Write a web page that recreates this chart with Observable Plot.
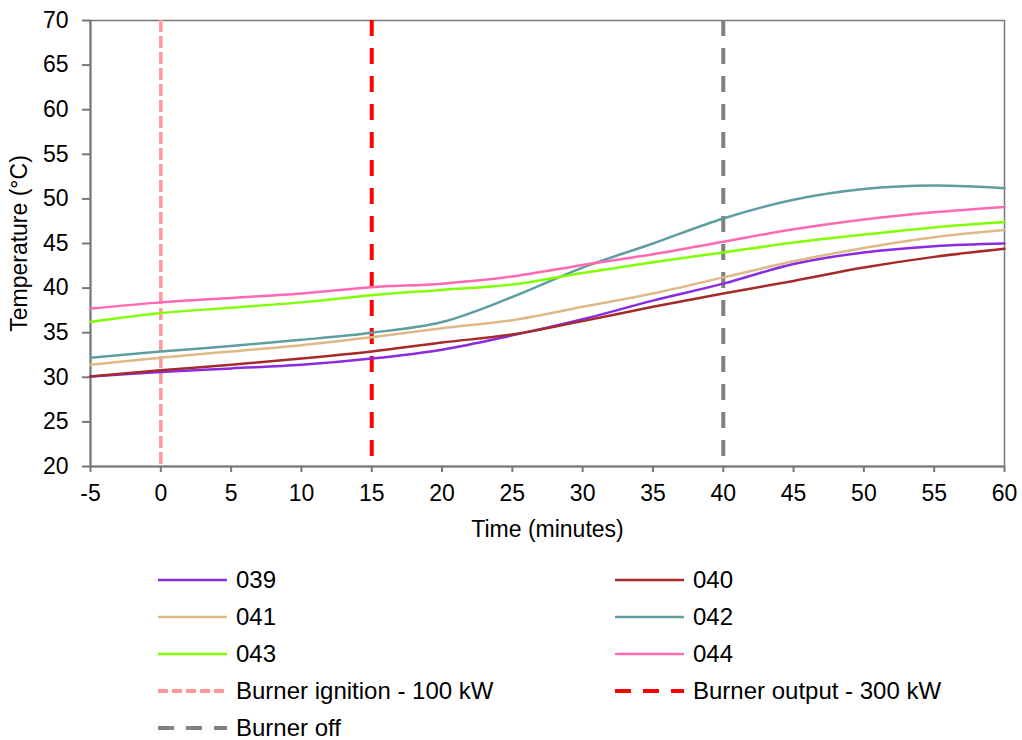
<!DOCTYPE html>
<html>
<head>
<meta charset="utf-8">
<script src="https://cdn.jsdelivr.net/npm/d3@7"></script>
<script src="https://cdn.jsdelivr.net/npm/@observablehq/plot@0.6"></script>
<style>
  html, body { margin: 0; padding: 0; background: #fff; }
  body { width: 1022px; height: 740px; overflow: hidden; font-family: "Liberation Sans", Arial, sans-serif; }
  #legend { position: relative; height: 185px; font-size: 24px; color: #000; }
  .item { position: absolute; display: flex; align-items: center; height: 22px; line-height: 22px; white-space: nowrap; }
  .item svg { margin-right: 9px; }
</style>
</head>
<body>
<div id="chart"></div>
<div id="legend"></div>
<script>
const times = [-5, 0, 5, 10, 15, 20, 25, 30, 35, 40, 45, 50, 55, 60];
const s039 = [30.1, 30.6, 31.0, 31.4, 32.1, 33.1, 34.7, 36.5, 38.6, 40.5, 42.7, 44.0, 44.7, 45.0];
const s040 = [30.1, 30.8, 31.4, 32.1, 32.9, 33.9, 34.8, 36.3, 37.9, 39.4, 40.8, 42.3, 43.5, 44.4];
const s041 = [31.4, 32.2, 32.9, 33.6, 34.5, 35.5, 36.4, 37.9, 39.4, 41.2, 43.0, 44.5, 45.7, 46.5];
const s042 = [32.2, 32.9, 33.5, 34.2, 35.0, 36.2, 39.0, 42.3, 45.0, 47.8, 49.9, 51.1, 51.5, 51.2];
const s043 = [36.2, 37.2, 37.8, 38.4, 39.2, 39.8, 40.4, 41.7, 42.9, 44.0, 45.1, 46.0, 46.8, 47.4];
const s044 = [37.7, 38.4, 38.9, 39.4, 40.1, 40.5, 41.3, 42.6, 43.8, 45.2, 46.6, 47.7, 48.5, 49.1];

const seriesNames = ["039", "040", "041", "042", "043", "044"];
const seriesValues = [s039, s040, s041, s042, s043, s044];
const seriesColors = ["#8A2BE2", "#A52A2A", "#DEB887", "#5F9EA0", "#7FFF00", "#FF69B4"];

const eventNames = ["Burner ignition - 100 kW", "Burner output - 300 kW", "Burner off"];
const eventTimes = [0, 15, 40];
const eventColors = ["#FF9999", "#FF0000", "#808080"];
const eventDash = ["12,4", "16,12", "16,12"];
const legendDash = ["10,4", "16,12", "16,12"];

const xTicks = [-5, 0, 5, 10, 15, 20, 25, 30, 35, 40, 45, 50, 55, 60];
const yTicks = [20, 25, 30, 35, 40, 45, 50, 55, 60, 65, 70];

const data = seriesNames.flatMap((name, i) =>
  times.map((t, j) => ({series: name, time: t, temp: seriesValues[i][j]})));

const axisColor = "#777";

const chart = Plot.plot({
  width: 1022,
  height: 555,
  marginLeft: 90,
  marginRight: 18,
  marginTop: 20,
  marginBottom: 89,
  style: {fontFamily: "'Liberation Sans', Arial, sans-serif", fontSize: "23px", color: "#000", background: "#fff"},
  x: {domain: [-5, 60]},
  y: {domain: [20, 70]},
  color: {domain: seriesNames, range: seriesColors},
  marks: [
    Plot.frame({stroke: axisColor, strokeWidth: 1.5}),
    Plot.axisY(yTicks, {tickSize: 8, tickPadding: 14, stroke: axisColor, strokeWidth: 2, fill: "#000",
      label: "Temperature (°C)", labelAnchor: "center", labelArrow: "none", labelOffset: 80, fontSize: 23}),
    Plot.axisX(xTicks, {tickSize: 6, tickPadding: 12, stroke: axisColor, strokeWidth: 2, fill: "#000",
      label: "Time (minutes)", labelAnchor: "center", labelArrow: "none", labelOffset: 70, fontSize: 23, tickFormat: d => String(d)}),
    Plot.ruleY([20], {stroke: axisColor, strokeWidth: 2}),
    Plot.ruleX([-5], {stroke: axisColor, strokeWidth: 2}),
    ...eventTimes.map((t, i) => Plot.ruleX([t], {stroke: eventColors[i], strokeWidth: i === 0 ? 3.5 : 4, strokeDasharray: eventDash[i]})),
    Plot.line(data, {x: "time", y: "temp", z: "series", stroke: "series", strokeWidth: 2.5, curve: "catmull-rom"})
  ]
});
document.getElementById("chart").appendChild(chart);

// Legend
const legend = document.getElementById("legend");
const entries = [];
seriesNames.forEach((n, i) => entries.push({label: n, color: seriesColors[i], dash: null, w: 2.5}));
eventNames.forEach((n, i) => entries.push({label: n, color: eventColors[i], dash: legendDash[i], w: 4}));
entries.forEach((e, k) => {
  const col = k % 2, row = Math.floor(k / 2);
  const div = document.createElement("div");
  div.className = "item";
  div.style.left = (col === 0 ? 158 : 615) + "px";
  div.style.top = (14 + row * 37) + "px";
  const sw = d3.create("svg").attr("width", 69).attr("height", 10);
  sw.append("line").attr("x1", 0).attr("x2", 69).attr("y1", 5).attr("y2", 5)
    .attr("stroke", e.color).attr("stroke-width", e.w)
    .attr("stroke-dasharray", e.dash);
  div.appendChild(sw.node());
  const span = document.createElement("span");
  span.textContent = e.label;
  div.appendChild(span);
  legend.appendChild(div);
});
</script>
</body>
</html>
